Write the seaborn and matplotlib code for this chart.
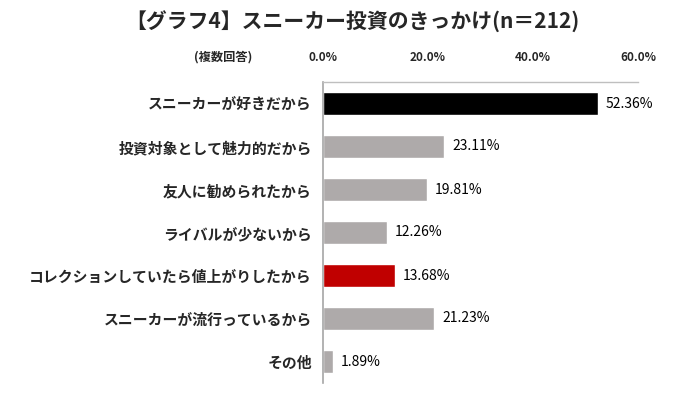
import matplotlib
matplotlib.use("Agg")
import matplotlib.pyplot as plt
import seaborn as sns
import numpy as np

categories = ["スニーカーが好きだから", "投資対象として魅力的だから", "友人に勧められたから",
              "ライバルが少ないから", "コレクションしていたら値上がりしたから",
              "スニーカーが流行っているから", "その他"]
values = [52.36, 23.11, 19.81, 12.26, 13.68, 21.23, 1.89]
bar_colors = ["#000000", "#AEAAAA", "#AEAAAA", "#AEAAAA", "#C00000", "#AEAAAA", "#AEAAAA"]
xticks = [0, 20, 40, 60]
title = "【グラフ4】スニーカー投資のきっかけ(n＝212)"
note = "(複数回答)"

sns.set_theme(style="white")
plt.rcParams['font.family'] = ['Noto Sans CJK JP', 'DejaVu Sans']

fig = plt.figure(figsize=(6.86, 3.93), dpi=100)
ax = fig.add_axes([323/686, 1-383/393, (638-323)/686, (383-82)/393])

sns.barplot(x=values, y=categories, hue=categories, palette=bar_colors,
            legend=False, width=0.53, ax=ax, orient="h", saturation=1)

ax.set_xlim(0, 60)
ax.set_ylim(6.5, -0.5)
ax.xaxis.tick_top()
ax.set_xticks(xticks)
ax.set_xticklabels([f"{t:.1f}%" for t in xticks], fontsize=8.5, fontweight="bold")
ax.tick_params(axis="x", length=0, pad=13)
ax.set_yticks(range(len(categories)))
ax.set_yticklabels(categories, fontsize=10.7, fontweight="bold")
ax.tick_params(axis="y", which="major", length=0, pad=8)
ax.set_yticks(np.arange(-0.5, len(categories), 1.0), minor=True)
ax.tick_params(axis="y", which="minor", length=4, direction="in", color="#A6A6A6", width=1)
ax.set_xlabel("")
ax.set_ylabel("")

for s in ["right", "bottom"]:
    ax.spines[s].set_visible(False)
ax.spines["top"].set_color("#BFBFBF")
ax.spines["left"].set_color("#A6A6A6")
ax.spines["top"].set_linewidth(1)
ax.spines["left"].set_linewidth(1.2)

for i, v in enumerate(values):
    ax.text(v + 1.5, i, f"{v:.2f}%", va="center", ha="left", fontsize=10, color="#000000")

fig.text(352/686, 1-22/393, title, ha="center", va="center", fontsize=15, fontweight="bold")
fig.text(223/686, 1-57/393, note, ha="center", va="center", fontsize=8.8, fontweight="bold")

fig.savefig("out.png", dpi=100)
